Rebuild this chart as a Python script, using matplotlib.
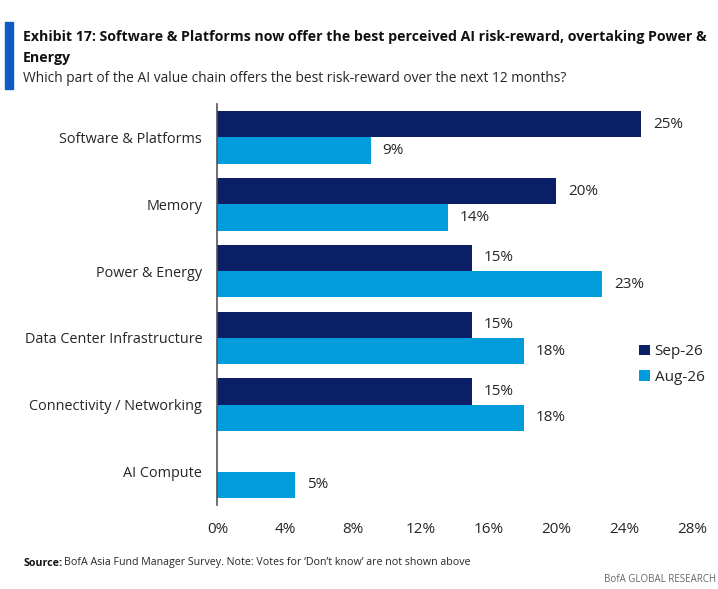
import numpy as np
import matplotlib
matplotlib.use("Agg")
import matplotlib.pyplot as plt
from matplotlib.patches import Rectangle

categories = ["Software & Platforms", "Memory", "Power & Energy",
              "Data Center Infrastructure", "Connectivity / Networking",
              "AI Compute"]
sep26 = [25.0, 20.0, 15.0, 15.0, 15.0, 0.0]
aug26 = [9.05, 13.6, 22.7, 18.1, 18.1, 4.6]
xticks = [0, 4, 8, 12, 16, 20, 24, 28]

navy = "#0b1f66"
light = "#009cdc"
txt = "#262626"
plt.rcParams["font.family"] = ["Open Sans", "DejaVu Sans"]


def main():
    fig = plt.figure(figsize=(7.18, 5.89), dpi=100)
    ax = fig.add_axes([0.3029, 0.1426, 0.9639 - 0.3029, 0.8234 - 0.1426])

    y = np.arange(len(categories))
    h = 0.395
    ax.barh(y - h / 2, sep26, height=h, color=navy, label="Sep-26")
    ax.barh(y + h / 2, aug26, height=h, color=light, label="Aug-26")

    for i in range(len(categories)):
        if sep26[i] > 0:
            ax.text(sep26[i] + 0.7, y[i] - h / 2, "%d%%" % round(sep26[i]),
                    va="center", ha="left", fontsize=11, color=txt)
        ax.text(aug26[i] + 0.7, y[i] + h / 2, "%d%%" % round(aug26[i]),
                va="center", ha="left", fontsize=11, color=txt)

    ax.set_xlim(0, 28)
    ax.set_ylim(5.5, -0.5)
    ax.set_xticks(xticks)
    ax.set_xticklabels(["%d%%" % v for v in xticks], fontsize=11, color=txt)
    ax.set_yticks(y)
    ax.set_yticklabels(categories, fontsize=10.4, color=txt)
    ax.tick_params(axis="both", length=0)
    ax.tick_params(axis="x", pad=12)
    ax.tick_params(axis="y", pad=11)
    for s in ["top", "right", "bottom"]:
        ax.spines[s].set_visible(False)
    ax.spines["left"].set_color("#555555")
    ax.spines["left"].set_linewidth(1.2)

    leg = ax.legend(loc="center left", bbox_to_anchor=(0.86, 0.35),
                    frameon=False, fontsize=11, handlelength=0.7,
                    handleheight=0.7, handletextpad=0.3, labelspacing=0.7)
    for t in leg.get_texts():
        t.set_color(txt)

    # header
    fig.patches.append(Rectangle((5 / 718, 1 - 89 / 589), 8 / 718, 67 / 589,
                                 transform=fig.transFigure,
                                 color="#0f5cc4", zorder=5))
    fig.text(23 / 718, 1 - 37 / 589,
             "Exhibit 17: Software & Platforms now offer the best perceived "
             "AI risk-reward, overtaking Power &",
             fontsize=10.2, fontweight="bold", va="center", color="#111111")
    fig.text(23 / 718, 1 - 58 / 589, "Energy", fontsize=10.2,
             fontweight="bold", va="center", color="#111111")
    fig.text(23 / 718, 1 - 79 / 589,
             "Which part of the AI value chain offers the best risk-reward "
             "over the next 12 months?",
             fontsize=9.9, va="center", color=txt)

    # footer
    s = fig.text(23 / 718, 1 - 563 / 589, "Source:", fontsize=7.7,
                 fontweight="bold", va="center", color="#111111")
    fig.canvas.draw()
    bb = s.get_window_extent()
    fig.text(bb.x1 / 718 + 2 / 718, 1 - 563 / 589,
             "BofA Asia Fund Manager Survey. Note: Votes for \u2018Don\u2019t "
             "know\u2019 are not shown above",
             fontsize=7.7, va="center", color=txt)
    fig.text(716 / 718, 1 - 580 / 589, "BofA GLOBAL RESEARCH", fontsize=7,
             ha="right", va="center", color="#666666")

    fig.savefig("out.png", dpi=100)


if __name__ == "__main__":
    main()
